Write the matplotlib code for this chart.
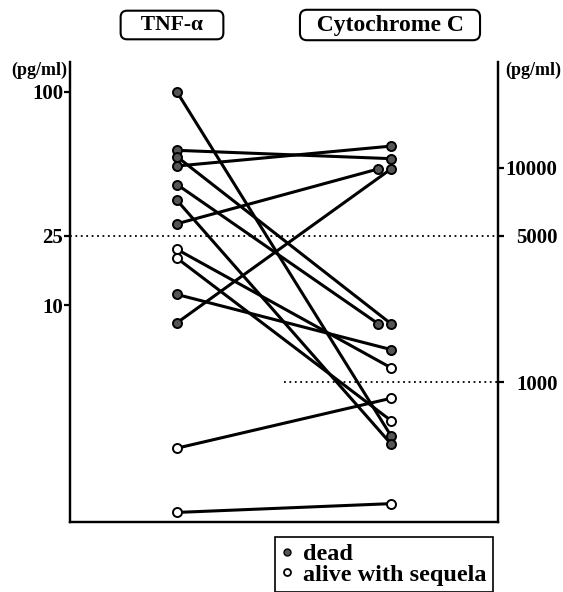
import numpy as np
import matplotlib
matplotlib.use("Agg")
import matplotlib.pyplot as plt
from matplotlib.lines import Line2D

# paired measurements per patient: TNF-alpha (left) and cytochrome C (right), pg/ml
tnf = [100, 57, 49, 53.6, 41, 35.2, 28.1, 7.9, 11.5, 20.9, 18.6, 1.5, 0.64]
cytc = [553, 11000, 12500, 1900, 1900, 506, 9900, 9900, 1430, 1170, 654, 836, 262]
dead = [True, True, True, True, True, True, True, True, True,
        False, False, False, False]
# right-hand points drawn slightly to the left so they don't overlap
nudged = [False, False, False, False, True, False, True, False, False,
          False, False, False, False]

tnf_ticks = [10, 25, 100]
cytc_ticks = [1000, 5000, 10000]

# the printed axes are not true log scales: each tick sits at its own height
tnf_frac = [0.4717, 0.622, 0.9348]
cytc_frac = [0.3043, 0.622, 0.7696]


def piecewise(x, xp, fp):
    x = np.asarray(x, dtype=float)
    y = np.interp(x, xp, fp)
    lo_slope = (fp[1] - fp[0]) / (xp[1] - xp[0])
    hi_slope = (fp[-1] - fp[-2]) / (xp[-1] - xp[-2])
    y = np.where(x < xp[0], fp[0] + (x - xp[0]) * lo_slope, y)
    y = np.where(x > xp[-1], fp[-1] + (x - xp[-1]) * hi_slope, y)
    return y


def make_scale(ticks, fracs):
    logs = np.log10(ticks)

    def forward(v):
        v = np.clip(np.asarray(v, dtype=float), 1e-12, None)
        return piecewise(np.log10(v), logs, fracs)

    def inverse(u):
        return 10 ** piecewise(u, fracs, logs)
    return forward, inverse


serif = "Liberation Serif"
plt.rcParams["font.family"] = serif
plt.rcParams["font.weight"] = "bold"

fig = plt.figure(figsize=(5.63, 5.92), dpi=100)
ax = fig.add_axes([70 / 563, 70 / 592, 428 / 563, 460 / 592])
ax2 = ax.twinx()

f1, i1 = make_scale(tnf_ticks, tnf_frac)
f2, i2 = make_scale(cytc_ticks, cytc_frac)
ax.set_yscale("function", functions=(f1, i1))
ax2.set_yscale("function", functions=(f2, i2))
ax.set_ylim(float(i1(0.0)), float(i1(1.0)))
ax2.set_ylim(float(i2(0.0)), float(i2(1.0)))
ax.set_xlim(-0.5, 1.5)

ax.set_yticks(tnf_ticks)
ax.set_yticklabels([str(t) for t in tnf_ticks])
ax.yaxis.set_minor_locator(matplotlib.ticker.NullLocator())
ax2.set_yticks(cytc_ticks)
ax2.set_yticklabels([str(t) for t in cytc_ticks])
ax2.yaxis.set_minor_locator(matplotlib.ticker.NullLocator())
ax.set_xticks([])

for a in (ax, ax2):
    a.spines["top"].set_visible(False)
    for s in ("left", "right", "bottom"):
        a.spines[s].set_linewidth(1.6)
    a.tick_params(axis="y", direction="out", length=4, width=1.6,
                  labelsize=15, pad=1)
    for lab in a.get_yticklabels():
        lab.set_fontweight("bold")

# right-hand labels are right-aligned against the page edge
ax2.tick_params(axis="y", pad=39)
for lab in ax2.get_yticklabels():
    lab.set_horizontalalignment("right")

# cut-off lines
ax2.axhline(5000, color="black", lw=1.3, ls=(0, (1, 2)))
ax2.hlines(1000, 0.5, 1.5, color="black", lw=1.3, ls=(0, (1, 2)))

# draw paired lines on the left axis so both scales line up
for t, c, d, n in zip(tnf, cytc, dead, nudged):
    y1 = float(f2(c))
    xr = 0.94 if n else 1.0
    ax.plot([0, xr], [t, float(i1(y1))], color="black", lw=2.2,
            solid_capstyle="round", zorder=3)
    face = "#555555" if d else "white"
    ax.plot([0], [t], marker="o", ms=6.5, mfc=face, mec="black", mew=1.4,
            ls="none", zorder=4, clip_on=False)
    ax2.plot([xr], [c], marker="o", ms=6.5, mfc=face, mec="black", mew=1.4,
             ls="none", zorder=4, clip_on=False)

fig.text(67 / 563, 1 - 70 / 592, "(pg/ml)", ha="right", va="center",
         fontsize=13, fontweight="bold")
fig.text(505 / 563, 1 - 70 / 592, "(pg/ml)", ha="left", va="center",
         fontsize=13, fontweight="bold")

box = dict(boxstyle="round,pad=0.2,rounding_size=0.3", fc="white",
           ec="black", lw=1.5)
fig.text(172 / 563, 1 - 25 / 592, "   TNF-α   ", ha="center", va="center",
         fontsize=15.5, fontweight="bold", bbox=box)
fig.text(390 / 563, 1 - 25 / 592, "  Cytochrome C  ", ha="center",
         va="center", fontsize=17, fontweight="bold", bbox=box)

handles = [
    Line2D([], [], marker="o", ls="none", ms=5, mfc="#555555", mec="black"),
    Line2D([], [], marker="o", ls="none", ms=5, mfc="white", mec="black",
           mew=1.3),
]
leg = fig.legend(handles, ["dead", "alive with sequela"], loc="upper left",
                 bbox_to_anchor=(275 / 563, 1 - 537 / 592), fancybox=False,
                 edgecolor="black", framealpha=1, fontsize=17.5,
                 handlelength=0.5, handletextpad=0.4, labelspacing=-0.05,
                 borderpad=0.25, borderaxespad=0)
leg.get_frame().set_linewidth(1.2)
for txt in leg.get_texts():
    txt.set_fontweight("bold")

fig.savefig("out.png", dpi=100)
